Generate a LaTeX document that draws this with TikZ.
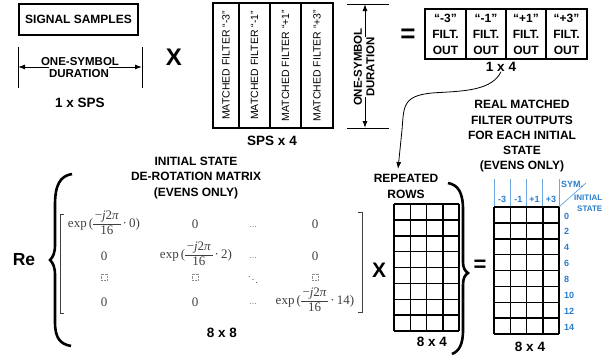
\documentclass[tikz,border=0pt]{standalone}
\usepackage{amsmath}
\usepackage[no-math]{fontspec}
\setmainfont{Liberation Sans}
\newfontfamily\serf{Liberation Serif}
\usetikzlibrary{arrows.meta}
\definecolor{bluec}{RGB}{40,125,205}
\definecolor{bluel}{RGB}{110,170,225}
\definecolor{matg}{RGB}{64,64,64}
\newcommand{\myfrac}[2]{$\vcenter{\hbox{\setlength{\tabcolsep}{1.5pt}\renewcommand{\arraystretch}{1.08}\begin{tabular}{c}#1\\\hline #2\end{tabular}}}$}
\newcommand{\expterm}[1]{exp\,(\myfrac{−\textit{j}2\textit{π}}{16}\,·\,#1)}
\begin{document}
\begin{tikzpicture}[x=1pt,y=-1pt,
  lbl/.style={font=\bfseries\fontsize{12}{15.25}\selectfont, align=center, inner sep=0pt},
  dimlbl/.style={font=\bfseries\fontsize{13.5}{16}\selectfont, inner sep=0pt},
  bigsym/.style={font=\bfseries\fontsize{#1}{#1}\selectfont, inner sep=0pt},
  mfbox/.style={draw, line width=1.2pt, rotate=90, minimum width=125pt, inner sep=0pt, font=\fontsize{10.5}{12}\selectfont},
  fbox/.style={draw, line width=1.2pt, minimum height=50pt, inner sep=0pt, align=center, font=\bfseries\fontsize{12}{16}\selectfont},
  dimarr/.style={line width=1pt, -{Latex[length=7pt,width=5pt]}},
  thinarr/.style={line width=0.8pt, -{Latex[length=7pt,width=5pt]}},
  mat/.style={text=matg, inner sep=0pt, font=\serf\fontsize{13}{14}\selectfont},
  dotsl/.style={text=matg, inner sep=0pt, font=\serf\fontsize{8}{9}\selectfont},
  ph/.style={draw=matg!60, densely dotted, minimum size=6pt, inner sep=0pt},
  blab/.style={text=bluec, inner sep=0pt, font=\bfseries\fontsize{9}{10}\selectfont},
  gridl/.style={line width=1.5pt}
]
\useasboundingbox (0,0) rectangle (604,356);

% signal samples
\node[draw, line width=1.2pt, minimum width=119pt, minimum height=31pt, inner sep=0pt, font=\bfseries\fontsize{12}{14}\selectfont] (sig) at (78.5,19.5) {SIGNAL SAMPLES};
\draw[line width=1pt] (18,47) -- (18,88);
\draw[line width=1pt] (142,47) -- (142,88);
\coordinate (dl) at (18,67);
\coordinate (dr) at (142,67);
\node[lbl, font=\bfseries\fontsize{11.5}{13}\selectfont] (one1) at (80,61.5) {ONE-SYMBOL};
\node[lbl, font=\bfseries\fontsize{11.5}{13}\selectfont] (dur1) at (79,74) {DURATION};
\draw[dimarr] (dur1.west |- dl) -- (dl);
\draw[dimarr] (dur1.east |- dr) -- (dr);
\node[dimlbl] (sps1) at (80,103) {1 x SPS};

\node[bigsym=24] (x1) at (174,57.5) {X};

% matched filters
\node[mfbox, minimum height=26pt] (mf1) at (226,65.5) {MATCHED FILTER “-3”};
\node[mfbox, minimum height=31pt] (mf2) at (254.5,65.5) {MATCHED FILTER “-1”};
\node[mfbox, minimum height=31pt] (mf3) at (285.5,65.5) {MATCHED FILTER “+1”};
\node[mfbox, minimum height=32pt] (mf4) at (317,65.5) {MATCHED FILTER “+3”};
\node[dimlbl] (sps4) at (272,141) {SPS x 4};

% right duration
\draw[line width=1pt] (347,4) -- (389,4);
\draw[line width=1pt] (347,128) -- (389,128);
\coordinate (dt) at (365,4);
\coordinate (db) at (365,128);
\node[lbl, rotate=90, font=\bfseries\fontsize{11.5}{13}\selectfont] (one2) at (358,67) {ONE-SYMBOL};
\node[lbl, rotate=90, font=\bfseries\fontsize{11.5}{13}\selectfont] (dur2) at (370.5,67) {DURATION};
\draw[dimarr] (dt |- dur2.east) -- (dt);
\draw[dimarr] (db |- dur2.west) -- (db);

\node[bigsym=26] (eq1) at (408,36) {=};

% filter outputs
\node[fbox, minimum width=41pt] (f1) at (445.5,34) {“-3”\\FILT.\\OUT};
\node[fbox, minimum width=40pt] (f2) at (486,34) {“-1”\\FILT.\\OUT};
\node[fbox, minimum width=40pt] (f3) at (526,34) {“+1”\\FILT.\\OUT};
\node[fbox, minimum width=41pt] (f4) at (566.5,34) {“+3”\\FILT.\\OUT};
\node[dimlbl] (o14) at (501,67) {1 x 4};

\node[lbl] (real) at (522,136.5) {REAL MATCHED\\FILTER OUTPUTS\\FOR EACH INITIAL\\STATE\\(EVENS ONLY)};

% curved arrow
\coordinate (tip) at (398,169);
\draw[thinarr] (o14.south) .. controls (492,90) and (465,91) .. (440,92.5) .. controls (402,94) and (404,105) .. (402,130) -- (tip);

% initial state matrix label
\node[lbl] (init) at (196,178) {INITIAL STATE\\DE-ROTATION MATRIX\\(EVENS ONLY)};

% Re and big brace
\node[bigsym=17.5] (re) at (24,260) {Re};
\draw[line width=2.6pt] (72,174) .. controls (60,176) and (55,185) .. (55,205) -- (55,245) .. controls (55,253) and (53,257) .. (50,260) .. controls (53,263) and (55,267) .. (55,275) -- (55,322) .. controls (55,338) and (60,344) .. (71,346);

% matrix brackets
\draw[matg, line width=0.9pt] (64,214) -- (60,214) -- (60,313) -- (64,313);
\draw[matg, line width=0.9pt] (358,212) -- (362,212) -- (362,312) -- (358,312);

% matrix entries
\node[mat] (m11) at (104,224) {\expterm{0}};
\node[mat] (m12) at (195,224) {0};
\node[dotsl] (m13) at (253,227) {…};
\node[mat] (m14) at (315,224) {0};
\node[mat] (m21) at (104,256) {0};
\node[mat] (m22) at (196,255) {\expterm{2}};
\node[dotsl] (m23) at (253,258) {…};
\node[mat] (m24) at (315,256) {0};
\node[ph] (m31) at (104,277) {};
\node[ph] (m32) at (195,277) {};
\node[mat, font=\fontsize{9}{10}\selectfont] (m33) at (253,277) {$\ddots$};
\node[ph] (m34) at (315,277) {};
\node[mat] (m41) at (104,302) {0};
\node[mat] (m42) at (195,302) {0};
\node[dotsl] (m43) at (253,304) {…};
\node[mat] (m44) at (315,301) {\expterm{14}};
\node[dimlbl] (d88) at (222,333) {8 x 8};

\node[bigsym=21] (x2) at (379,270) {X};

% repeated rows
\node[lbl] (rep) at (406,186.5) {REPEATED\\ROWS};
\foreach \i in {0,...,4} \draw[gridl] ({394+\i*16.25},204) -- ({394+\i*16.25},331);
\foreach \j in {0,...,8} \draw[gridl] (394,{204+\j*15.875}) -- (459,{204+\j*15.875});
\node[dimlbl] (d84a) at (432,342) {8 x 4};

% right brace
\draw[line width=2.6pt] (448,183) .. controls (458,185) and (463,192) .. (463,210) -- (463,262) .. controls (463,268) and (465,271) .. (468,273) .. controls (465,275) and (463,278) .. (463,285) -- (463,330) .. controls (463,345) and (459,351) .. (452,354);

\node[bigsym=22] (eq2) at (480,266) {=};

% output grid
\foreach \i in {0,...,4} \draw[bluel, line width=0.8pt] ({494+\i*16.25},179) -- ({494+\i*16.25},207);
\draw[bluel, line width=0.8pt] (559,207) -- (586,183);
\foreach \i in {0,...,4} \draw[gridl] ({494+\i*16.25},207) -- ({494+\i*16.25},334);
\foreach \j in {0,...,8} \draw[gridl] (494,{207+\j*15.875}) -- (559,{207+\j*15.875});
\node[blab] (c1) at (502.1,199) {-3};
\node[blab] (c2) at (518.4,199) {-1};
\node[blab] (c3) at (534.6,199) {+1};
\node[blab] (c4) at (550.9,199) {+3};
\node[blab, anchor=west] (sym) at (561,184) {SYM.};
\node[blab, anchor=west, font=\bfseries\fontsize{8}{9}\selectfont] (ini) at (574,198) {INITIAL};
\node[blab, anchor=west, font=\bfseries\fontsize{8}{9}\selectfont] (sta) at (577,208.5) {STATE};
\foreach \v [count=\k from 0] in {0,2,4,6,8,10,12,14}
  \node[blab, anchor=west] (r\k) at (564,{207+15.875*(\k+0.5)+1}) {\v};
\node[dimlbl] (d84b) at (530,347) {8 x 4};
\end{tikzpicture}
\end{document}
